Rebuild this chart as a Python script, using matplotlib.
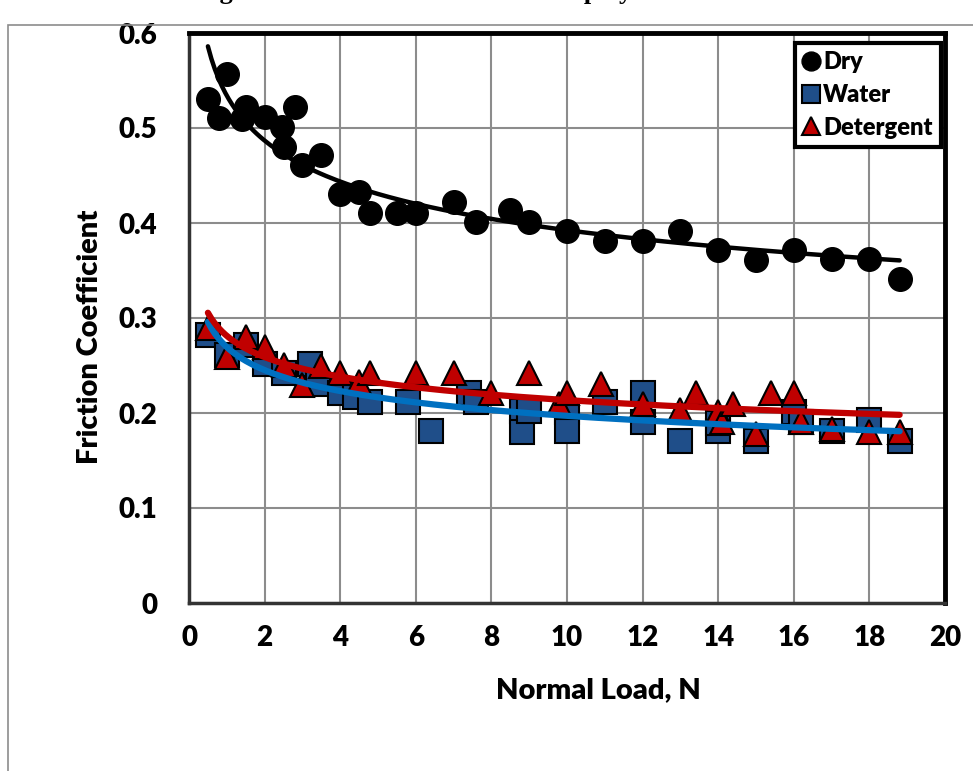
import numpy as np
import matplotlib.pyplot as plt
from matplotlib.patches import Rectangle

plt.rcParams['font.family'] = ['Lato', 'DejaVu Sans']
plt.rcParams['font.weight'] = 'heavy'
plt.rcParams['axes.labelweight'] = 'heavy'

# --- data ---
dry_x = [0.5, 0.8, 1.0, 1.4, 1.5, 2.0, 2.45, 2.5, 2.8, 3.0, 3.5, 4.0, 4.5, 4.8, 5.5,
         6.0, 7.0, 7.6, 8.5, 9.0, 10.0, 11.0, 12.0, 13.0, 14.0, 15.0, 16.0, 17.0, 18.0, 18.8]
dry_y = [0.531, 0.511, 0.557, 0.510, 0.522, 0.512, 0.501, 0.480, 0.522, 0.461, 0.472, 0.431,
         0.433, 0.411, 0.411, 0.411, 0.422, 0.401, 0.414, 0.401, 0.392, 0.381, 0.381, 0.392,
         0.372, 0.361, 0.372, 0.362, 0.362, 0.341]

water_x = [0.5, 1.0, 1.5, 2.0, 2.5, 3.2, 3.4, 4.0, 4.4, 4.8, 5.8, 6.4, 7.4, 7.6, 8.8, 8.8,
           9.0, 10.0, 10.0, 11.0, 12.0, 12.0, 13.0, 14.0, 14.0, 15.0, 16.0, 16.2, 17.0, 18.0, 18.8]
water_y = [0.282, 0.261, 0.272, 0.252, 0.242, 0.252, 0.231, 0.221, 0.217, 0.212, 0.212, 0.181,
           0.221, 0.212, 0.202, 0.180, 0.202, 0.201, 0.181, 0.212, 0.221, 0.191, 0.171, 0.181,
           0.190, 0.171, 0.201, 0.191, 0.181, 0.193, 0.171]

det_x = [0.5, 1.0, 1.5, 2.0, 2.5, 3.0, 3.5, 4.0, 4.5, 4.8, 6.0, 7.0, 8.0, 9.0, 9.8, 10.0,
         10.9, 12.0, 13.0, 13.4, 14.0, 14.1, 14.4, 15.0, 15.4, 16.0, 16.2, 17.0, 18.0, 18.8]
det_y = [0.289, 0.259, 0.280, 0.269, 0.251, 0.229, 0.249, 0.242, 0.233, 0.242, 0.242, 0.242,
         0.221, 0.242, 0.210, 0.221, 0.231, 0.210, 0.203, 0.221, 0.201, 0.191, 0.210, 0.178,
         0.221, 0.221, 0.191, 0.183, 0.180, 0.180]

x_ticks = [0, 2, 4, 6, 8, 10, 12, 14, 16, 18, 20]
y_ticks = [0, 0.1, 0.2, 0.3, 0.4, 0.5, 0.6]
y_tick_labels = ['0', '0.1', '0.2', '0.3', '0.4', '0.5', '0.6']


def power_fit(x, y):
    # excel style power trendline: least squares in log-log
    b, ln_a = np.polyfit(np.log(x), np.log(y), 1)
    xs = np.linspace(min(x), max(x), 200)
    return xs, np.exp(ln_a) * xs ** b


W, H = 973, 771
fig = plt.figure(figsize=(W / 100, H / 100), dpi=100)
ax = fig.add_axes([189 / W, 1 - 603 / H, (945 - 189) / W, (603 - 33) / H])

# outer chart border (excel chart area)
fig.add_artist(Rectangle((8 / W, -0.05), 1.2, 1.05 - 25 / H, transform=fig.transFigure,
                         fill=False, edgecolor='#8c8c8c', lw=1.2))
# caption of the page, only its lower edge shows at the top
fig.text(501 / W, 1 + 1 / H, 'Fig. 4 Friction coefficient between polyamide and steel',
         family='Liberation Serif', weight='bold', fontsize=19, ha='center', va='baseline')

ax.plot(dry_x, dry_y, 'o', color='black', ms=17, mec='black', zorder=3, label='Dry')
ax.plot(water_x, water_y, 's', color='#1F4E89', ms=17, mec='black', mew=1.5, zorder=3,
        label='Water')
ax.plot(det_x, det_y, '^', color='#C00000', ms=17, mec='black', mew=1.5, zorder=3,
        label='Detergent')

for xs_, ys_, c, lw in [(dry_x, dry_y, 'black', 3.2), (water_x, water_y, '#0070C0', 4.5),
                        (det_x, det_y, '#C00000', 4.5)]:
    fx, fy = power_fit(xs_, ys_)
    ax.plot(fx, fy, color=c, lw=lw, solid_capstyle='round', zorder=4)

ax.set_xlim(0, 20)
ax.set_ylim(0, 0.6)
ax.set_xticks(x_ticks)
ax.set_yticks(y_ticks)
ax.set_yticklabels(y_tick_labels)
ax.grid(True, color='#8c8c8c', lw=1.5)
ax.set_axisbelow(True)
ax.tick_params(length=0, labelsize=20)
ax.tick_params(axis='y', pad=23)
ax.tick_params(axis='x', pad=16)

for side in ['top', 'right']:
    ax.spines[side].set_linewidth(3.5)
    ax.spines[side].set_color('black')
for side in ['left', 'bottom']:
    ax.spines[side].set_linewidth(2.5)
    ax.spines[side].set_color('#333333')

ax.set_xlabel('Normal Load, N', fontsize=21, fontweight='heavy')
ax.set_ylabel('Friction Coefficient', fontsize=21, fontweight='heavy')
ax.xaxis.set_label_coords((598 - 189) / (945 - 189), -(690 - 603) / (603 - 33))
ax.yaxis.set_label_coords(-(189 - 90) / (945 - 189), (603 - 337) / (603 - 33))
ax.xaxis.label.set_va('center')
ax.yaxis.label.set_va('center')

leg = ax.legend(loc='upper right', bbox_to_anchor=(941 / W, 1 - 43 / H),
                bbox_transform=fig.transFigure, borderaxespad=0, fontsize=17,
                markerscale=0.8, handlelength=0.7, handletextpad=0.15,
                labelspacing=0.45, borderpad=0.35, fancybox=False, framealpha=1)
leg.get_frame().set_edgecolor('black')
leg.get_frame().set_linewidth(3)

fig.savefig('out.png', dpi=100)
